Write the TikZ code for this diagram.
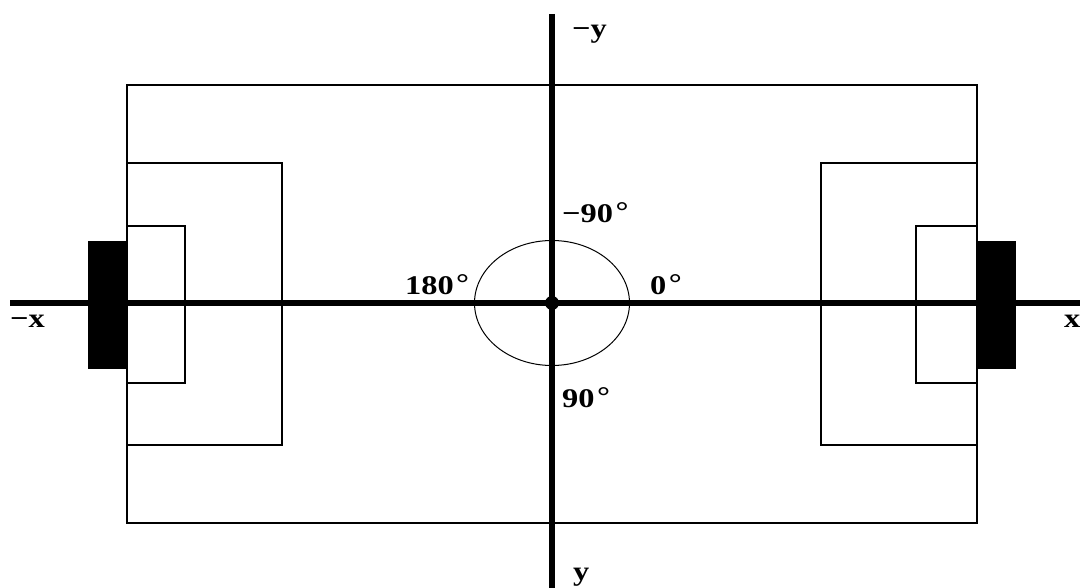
\documentclass[tikz,border=0pt]{standalone}
\usepackage{fontspec}
\setmainfont{Liberation Serif}
\newcommand{\degsym}{\hspace{2pt}\raisebox{2pt}{°}}
\begin{document}
\begin{tikzpicture}[x=1pt,y=-1pt,
  fieldline/.style={draw=black,line width=1.3pt},
  axisline/.style={draw=black,line width=6.5pt},
  goalbox/.style={fill=black,draw=black,line width=1pt},
  lbl/.style={font=\bfseries\fontsize{27}{29}\selectfont,inner sep=0pt,anchor=base west,xscale=1.2}]
\useasboundingbox (0,0) rectangle (1080,588);
% field
\draw[fieldline] (127,85) rectangle (977,523);
\draw[fieldline] (127,163) rectangle (282,445);
\draw[fieldline] (127,226) rectangle (185,383);
\draw[fieldline] (821,163) rectangle (977,445);
\draw[fieldline] (916,226) rectangle (977,383);
\draw[goalbox] (88,242) rectangle (127,368);
\draw[goalbox] (977,242) rectangle (1015,368);
% centre circle
\draw[line width=1pt] (552,303) ellipse [x radius=77.5, y radius=62.5];
% axes
\coordinate (xl) at (10,303);
\coordinate (xr) at (1080,303);
\coordinate (yt) at (552,14);
\coordinate (yb) at (552,588);
\draw[axisline] (xl) -- (xr);
\draw[axisline] (yt) -- (yb);
\fill (552,303) circle [radius=7];
% labels
\node[lbl] (ny) at (572,38) {−y};
\node[lbl] (py) at (573,580) {y};
\node[lbl] (nx) at (10,328) {−x};
\node[lbl] (px) at (1064,328) {x};
\node[lbl] (m90) at (562,223) {−90\degsym};
\node[lbl] (d180) at (405,295) {180\degsym};
\node[lbl] (d0) at (650,295) {0\degsym};
\node[lbl] (d90) at (562,407) {90\degsym};
\end{tikzpicture}
\end{document}
